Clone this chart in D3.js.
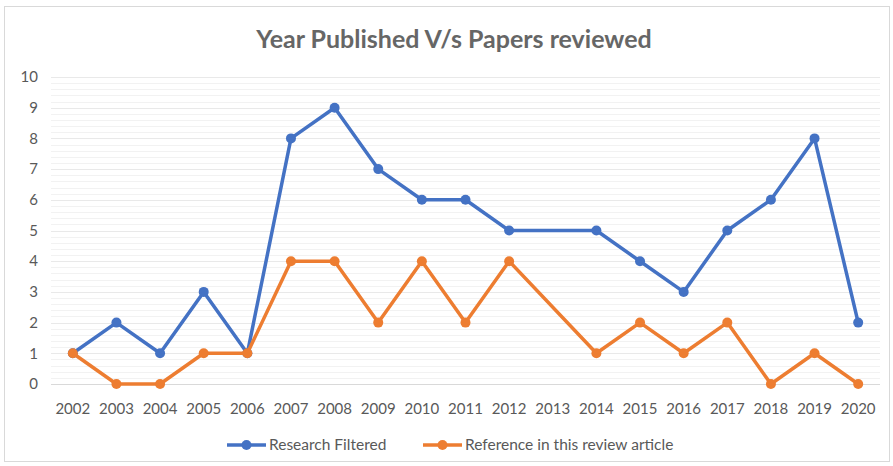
<!DOCTYPE html>
<html>
<head>
<meta charset="utf-8">
<script src="https://cdn.jsdelivr.net/npm/d3@7"></script>
<style>
  body { margin: 0; background: #fff; }
  text { font-family: Lato, "Open Sans", sans-serif; }
</style>
</head>
<body>
<div id="chart"></div>
<script>
const years = ["2002","2003","2004","2005","2006","2007","2008","2009","2010","2011",
               "2012","2013","2014","2015","2016","2017","2018","2019","2020"];
const researchFiltered = [1, 2, 1, 3, 1, 8, 9, 7, 6, 6, 5, null, 5, 4, 3, 5, 6, 8, 2];
const referenceInReview = [1, 0, 0, 1, 1, 4, 4, 2, 4, 2, 4, null, 1, 2, 1, 2, 0, 1, 0];
const yTicks = [0, 1, 2, 3, 4, 5, 6, 7, 8, 9, 10];

const series = [
    { name: "Research Filtered", values: researchFiltered, color: "#4472C4" },
    { name: "Reference in this review article", values: referenceInReview, color: "#ED7D31" }
];

const width = 893, height = 466;
const margin = { top: 77, right: 13, bottom: 82, left: 51 };

const svg = d3.select("#chart")
    .append("svg")
    .attr("width", width)
    .attr("height", height);

// chart frame
svg.append("rect")
    .attr("x", 4.5).attr("y", 6.5)
    .attr("width", width - 8).attr("height", height - 11)
    .attr("fill", "#fff")
    .attr("stroke", "#d9d9d9");

const x = d3.scaleBand()
    .domain(years)
    .range([margin.left, width - margin.right]);

const y = d3.scaleLinear()
    .domain([0, 10])
    .range([height - margin.bottom, margin.top]);

// minor gridlines
svg.append("g")
    .selectAll("line")
    .data(d3.range(0, 10, 0.2).filter(v => Math.abs(v - Math.round(v)) > 0.01))
    .enter().append("line")
    .attr("x1", margin.left).attr("x2", width - margin.right)
    .attr("y1", d => Math.round(y(d)) + 0.5).attr("y2", d => Math.round(y(d)) + 0.5)
    .attr("stroke", "#f2f2f2");

// major gridlines
svg.append("g")
    .selectAll("line")
    .data(yTicks)
    .enter().append("line")
    .attr("x1", margin.left).attr("x2", width - margin.right)
    .attr("y1", d => Math.round(y(d)) + 0.5).attr("y2", d => Math.round(y(d)) + 0.5)
    .attr("stroke", d => d === 0 ? "#d9d9d9" : "#e9e9e9");

// y axis labels
svg.append("g")
    .selectAll("text")
    .data(yTicks)
    .enter().append("text")
    .attr("x", 38)
    .attr("y", d => y(d))
    .attr("dy", "0.35em")
    .attr("text-anchor", "end")
    .attr("font-size", 15)
    .attr("fill", "#595959")
    .text(d => d);

// x axis labels
svg.append("g")
    .selectAll("text")
    .data(years)
    .enter().append("text")
    .attr("x", d => x(d) + x.bandwidth() / 2)
    .attr("y", 409)
    .attr("dy", "0.35em")
    .attr("text-anchor", "middle")
    .attr("font-size", 15)
    .attr("fill", "#595959")
    .text(d => d);

// title
svg.append("text")
    .attr("x", 454)
    .attr("y", 39)
    .attr("dy", "0.35em")
    .attr("text-anchor", "middle")
    .attr("font-size", 25)
    .attr("font-weight", "bold")
    .attr("fill", "#666666")
    .text("Year Published V/s Papers reviewed");

// lines and markers (gaps are bridged, like Excel "connect data points")
const line = d3.line()
    .x(d => x(d.year) + x.bandwidth() / 2)
    .y(d => y(d.value));

series.forEach(s => {
    const pts = years.map((yr, i) => ({ year: yr, value: s.values[i] }))
        .filter(d => d.value !== null);
    svg.append("path")
        .datum(pts)
        .attr("fill", "none")
        .attr("stroke", s.color)
        .attr("stroke-width", 3.5)
        .attr("stroke-linejoin", "round")
        .attr("d", line);
    svg.append("g")
        .selectAll("circle")
        .data(pts)
        .enter().append("circle")
        .attr("cx", d => x(d.year) + x.bandwidth() / 2)
        .attr("cy", d => y(d.value))
        .attr("r", 5)
        .attr("fill", s.color);
});

// legend
const legendX = [227, 423];
series.forEach((s, i) => {
    const g = svg.append("g").attr("transform", `translate(${legendX[i]},445)`);
    g.append("line")
        .attr("x1", 0).attr("x2", 39)
        .attr("stroke", s.color)
        .attr("stroke-width", 3.5);
    g.append("circle")
        .attr("cx", 19.5).attr("r", 5)
        .attr("fill", s.color);
    g.append("text")
        .attr("x", 42)
        .attr("dy", "0.35em")
        .attr("font-size", 15.5)
        .attr("fill", "#595959")
        .text(s.name);
});
</script>
</body>
</html>
